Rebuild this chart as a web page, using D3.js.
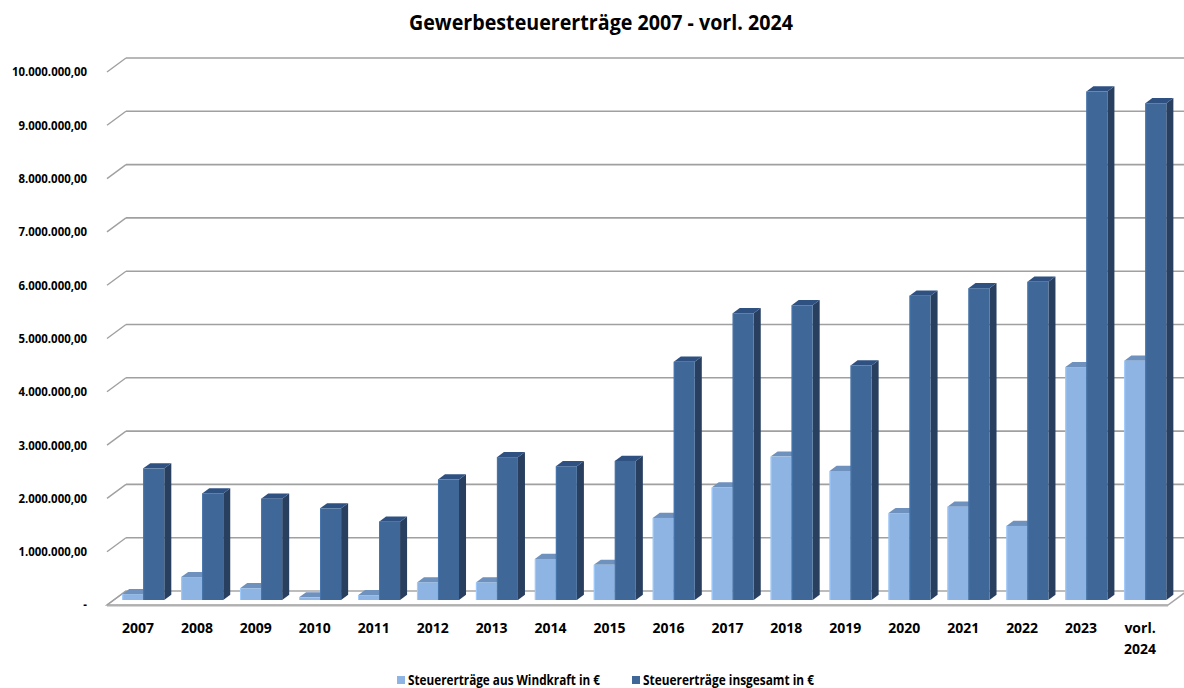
<!DOCTYPE html>
<html>
<head>
<meta charset="utf-8">
<script src="https://cdn.jsdelivr.net/npm/d3@7"></script>
<style>
  html, body { margin: 0; padding: 0; background: #fff; }
  svg { display: block; }
  text { font-family: "Open Sans", "Liberation Sans", sans-serif; font-weight: bold; fill: #000; }
</style>
</head>
<body>
<svg id="chart" width="1184" height="688"></svg>
<script>
// Tax revenue per year (in €)
const categories = ["2007","2008","2009","2010","2011","2012","2013","2014","2015",
                    "2016","2017","2018","2019","2020","2021","2022","2023","vorl. 2024"];
const windkraft = [110000, 430000, 220000, 50000, 90000, 330000, 330000, 770000, 660000,
                   1540000, 2110000, 2690000, 2420000, 1630000, 1750000, 1390000, 4370000, 4490000];
const insgesamt = [2470000, 2000000, 1900000, 1720000, 1470000, 2260000, 2680000, 2510000, 2610000,
                   4470000, 5380000, 5530000, 4400000, 5710000, 5850000, 5970000, 9540000, 9320000];
const seriesNames = ["Steuererträge aus Windkraft in €", "Steuererträge insgesamt in €"];
const yTicks = [0, 1000000, 2000000, 3000000, 4000000, 5000000, 6000000, 7000000, 8000000, 9000000, 10000000];
const chartTitle = "Gewerbesteuererträge 2007 - vorl. 2024";

const svg = d3.select("#chart");

// condensed look: squeeze a group of texts horizontally by one common factor
function condense(sel, factor) {
  sel.each(function () {
    const w = this.getComputedTextLength();
    d3.select(this).attr("textLength", w * factor).attr("lengthAdjust", "spacingAndGlyphs");
  });
}

// oblique 3D geometry: full floor depth and where the bars stand inside it
const depth = { dx: 19, dy: -14 };
const barFront = 5 / 14;     // fraction of depth in front of the bars
const barDepth = 0.37;       // fraction of depth the bars occupy

const x = d3.scaleBand().domain(categories).range([107, 1168])
  .paddingInner(0.287).paddingOuter(0.1435);
const xSeries = d3.scaleBand().domain([0, 1]).range([0, x.bandwidth()]);
const y = d3.scaleLinear().domain([0, 10000000]).range([605, 72]);

const fmt = v => v === 0 ? "-" :
  d3.formatLocale({ decimal: ",", thousands: ".", grouping: [3], currency: ["", "€"] }).format(",.2f")(v);

// offset of a point pushed back by fraction f of the depth
const off = f => [depth.dx * f, depth.dy * f];

// floor
const [bx, by] = off(1);
const floorPts = [[x.range()[0], y(0)], [x.range()[1], y(0)], [x.range()[1] + bx, y(0) + by], [x.range()[0] + bx, y(0) + by]];
svg.append("polygon")
  .attr("points", floorPts.map(p => p.join(",")).join(" "))
  .attr("fill", "#fff").attr("stroke", "#a6a6a6").attr("stroke-width", 1.5);
svg.append("line")
  .attr("x1", x.range()[0]).attr("x2", x.range()[1]).attr("y1", y(0) + 0.5).attr("y2", y(0) + 0.5)
  .attr("stroke", "#b0b0b0").attr("stroke-width", 2);

// gridlines on the back wall and the left side wall
const grid = svg.append("g");
yTicks.forEach(t => {
  if (t > 0) {
    grid.append("line")
      .attr("x1", x.range()[0] + bx).attr("x2", x.range()[1] + bx + 2)
      .attr("y1", y(t) + by).attr("y2", y(t) + by)
      .attr("stroke", "#a0a0a0").attr("stroke-width", 1.6);
  }
  grid.append("line")
    .attr("x1", x.range()[0]).attr("y1", y(t))
    .attr("x2", x.range()[0] + bx).attr("y2", y(t) + by)
    .attr("stroke", "#a0a0a0").attr("stroke-width", 1.4);
});

// y axis labels
const yLabels = svg.append("g").selectAll("text").data(yTicks).join("text")
  .attr("x", 87).attr("y", d => y(d) + 1)
  .attr("text-anchor", "end").attr("dominant-baseline", "middle")
  .attr("font-size", 13).text(fmt);
condense(yLabels, 75 / yLabels.nodes()[yLabels.size() - 1].getComputedTextLength());

// bars
const colors = [
  { front: "#8db4e2", top: "#6f91bd", side: "#5f7fa8" },
  { front: "#3f6899", top: "#2f5182", side: "#283f60" }
];
const [fx, fy] = off(barFront);
const [dx, dy] = off(barDepth);
const base = y(0) + fy;

function drawBar(g, x0, w, yTop, c) {
  const x1 = x0 + w;
  g.append("polygon").attr("fill", c.side)
    .attr("points", [[x1, base], [x1 + dx, base + dy], [x1 + dx, yTop + dy], [x1, yTop]].map(p => p.join(",")).join(" "));
  g.append("polygon").attr("fill", c.top)
    .attr("points", [[x0, yTop], [x1, yTop], [x1 + dx, yTop + dy], [x0 + dx, yTop + dy]].map(p => p.join(",")).join(" "));
  g.append("rect").attr("fill", c.front)
    .attr("x", x0).attr("y", yTop).attr("width", w).attr("height", base - yTop);
  g.append("line").attr("stroke", d3.color(c.front).brighter(0.35)).attr("stroke-width", 1)
    .attr("x1", x0 + 0.5).attr("x2", x0 + 0.5).attr("y1", yTop).attr("y2", base);
}

const bars = svg.append("g");
categories.forEach((cat, i) => {
  [windkraft[i], insgesamt[i]].forEach((v, s) => {
    const x0 = x(cat) + xSeries(s) + fx;
    drawBar(bars, x0, xSeries.bandwidth(), y(v) + fy, colors[s]);
  });
});

// category labels
const xl = svg.append("g");
categories.forEach(cat => {
  const cx = x(cat) + x.bandwidth() / 2 + 1.5;
  cat.split(" ").forEach((p, k) => {
    xl.append("text").attr("x", cx).attr("y", 633 + k * 21)
      .attr("text-anchor", "middle").attr("font-size", 15).text(p);
  });
});
const xTexts = xl.selectAll("text");
condense(xTexts, 32 / xTexts.nodes()[0].getComputedTextLength());

// title
const title = svg.append("text").attr("x", 601).attr("y", 30).attr("text-anchor", "middle")
  .attr("font-size", 22).text(chartTitle);
condense(title, 384 / title.node().getComputedTextLength());

// legend
const legend = svg.append("g");
const legendX = [397, 632];
const legendW = [192, 171];
seriesNames.forEach((name, s) => {
  legend.append("rect").attr("x", legendX[s]).attr("y", 676).attr("width", 8).attr("height", 8)
    .attr("fill", colors[s].front);
  const t = legend.append("text").attr("x", legendX[s] + 11).attr("y", 685)
    .attr("font-size", 13.5).text(name);
  condense(t, legendW[s] / t.node().getComputedTextLength());
});
</script>
</body>
</html>
